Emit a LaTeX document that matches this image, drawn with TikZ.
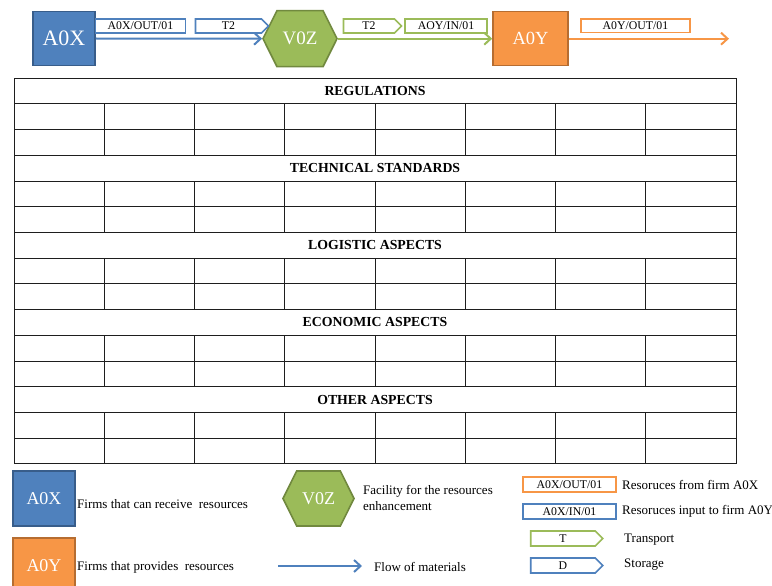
\documentclass[tikz,border=0pt]{standalone}
\usepackage{fontspec}
\setmainfont{Liberation Serif}
\usetikzlibrary{arrows.meta,shapes.symbols}
\definecolor{fblue}{HTML}{4F81BD}
\definecolor{dblue}{HTML}{385D8A}
\definecolor{fgreen}{HTML}{9BBB59}
\definecolor{dgreen}{HTML}{71893F}
\definecolor{forange}{HTML}{F79646}
\definecolor{dorange}{HTML}{B66D31}
\definecolor{gridcol}{HTML}{1E1E1E}

\begin{document}
\begin{tikzpicture}[x=1pt,y=-1pt,
  firm/.style 2 args={rectangle, fill=#1, draw=#2, line width=1.6pt,
    text=white, inner sep=0pt},
  hexnode/.style={signal, signal to=west and east, signal pointer angle=127,
    fill=fgreen, draw=dgreen, line width=1.6pt, text=white, inner sep=0pt},
  tagbox/.style={rectangle, draw=#1, fill=white, line width=1.5pt, inner sep=0pt,
    font=\fontsize{11.8}{12}\selectfont},
  tagsignal/.style={signal, signal to=east, signal pointer angle=90, draw=#1,
    fill=white, line width=1.6pt, inner sep=0pt,
    font=\fontsize{11.8}{12}\selectfont},
  flow/.style={draw=#1, line width=2pt, -{Straight Barb[length=6.5pt,width=12pt]}},
  legtext/.style={anchor=west, inner sep=0pt, font=\fontsize{13}{16}\selectfont},
  gridline/.style={draw=gridcol, line width=1pt},
  header/.style={font=\fontsize{13.8}{14}\selectfont\bfseries, inner sep=0pt}
]
\clip (0,0) rectangle (772,586);
\fill[white] (0,0) rectangle (772,586);

% ---------- process chain ----------
\node[firm={fblue}{dblue}, minimum width=62, minimum height=54,
  font=\fontsize{22}{22}\selectfont] (a0x) at (64,38.5) {A0X};
\node[hexnode, minimum width=74, minimum height=56,
  font=\fontsize{19}{19}\selectfont] (v0z) at (300,38.7) {V0Z};
\node[firm={forange}{dorange}, minimum width=75, minimum height=54,
  font=\fontsize{18.5}{18.5}\selectfont] (a0y) at (530.5,38.7) {A0Y};
\coordinate (out) at (729,38.7);

\draw[flow=fblue] (a0x.east) -- (v0z.west);
\draw[flow=fgreen] (v0z.east) -- (a0y.west);
\draw[flow=forange] (a0y.east) -- (out);

\node[tagbox=fblue, minimum width=90, minimum height=14] (t1) at (140.5,26) {A0X/OUT/01};
\node[tagsignal=fblue, minimum width=73, minimum height=14] (t2) at (228.5,26) {T2};
\node[tagsignal=fgreen, minimum width=58, minimum height=14] (t3) at (369,26) {T2};
\node[tagbox=fgreen, minimum width=82, minimum height=14] (t4) at (446,26) {AOY/IN/01};
\node[tagbox=forange, minimum width=109, minimum height=13.5] (t5) at (635.5,25.7) {A0Y/OUT/01};

% ---------- table ----------
\def\tl{14}\def\tr{736}\def\tt{78.3}\def\rh{25.7}\def\cw{90.25}
\draw[gridline] (\tl,\tt) rectangle (\tr,{\tt+15*\rh});
\foreach \r in {1,...,14}
  \draw[gridline] (\tl,{\tt+\r*\rh}) -- (\tr,{\tt+\r*\rh});
\foreach \g in {0,...,4}
  \foreach \k in {1,...,7}
    \draw[gridline] ({\tl+\k*\cw},{\tt+(3*\g+1)*\rh}) -- ({\tl+\k*\cw},{\tt+(3*\g+3)*\rh});

\foreach \g/\name in {0/REGULATIONS, 1/TECHNICAL STANDARDS, 2/LOGISTIC ASPECTS,
                      3/ECONOMIC ASPECTS, 4/OTHER ASPECTS}
  \node[header] (h\g) at ({(\tl+\tr)/2},{\tt+(3*\g+0.5)*\rh}) {\name};

% ---------- legend ----------
\node[firm={fblue}{dblue}, minimum width=62, minimum height=55,
  font=\fontsize{18}{18}\selectfont] (la0x) at (44,498.5) {A0X};
\node[legtext] (la0xt) at (77,504) {Firms that can receive\ \ resources};

\node[firm={forange}{dorange}, minimum width=62, minimum height=55,
  font=\fontsize{18}{18}\selectfont] (la0y) at (44,565.5) {A0Y};
\node[legtext] (la0yt) at (77,567) {Firms that provides\ \ resources};

\node[hexnode, minimum width=71, minimum height=55,
  font=\fontsize{18}{18}\selectfont] (lv0z) at (318.5,498.5) {V0Z};
\node[legtext, align=left] (lv0zt) at (363,498) {Facility for the resources\\enhancement};

\coordinate (lfa) at (278,566);
\coordinate (lfb) at (362,566);
\draw[flow=fblue] (lfa) -- (lfb);
\node[legtext] (lflow) at (374,567) {Flow of materials};

\node[tagbox=forange, minimum width=93, minimum height=15] (lt1) at (569.5,484.5) {A0X/OUT/01};
\node[legtext] (lt1t) at (622,485) {Resoruces from firm A0X};
\node[tagbox=fblue, minimum width=93, minimum height=15] (lt2) at (569.5,511.5) {A0X/IN/01};
\node[legtext] (lt2t) at (622,511) {Resoruces input to firm A0Y};
\node[tagsignal=fgreen, minimum width=72, minimum height=15] (lt3) at (563,538.5) {T};
\node[legtext] (lt3t) at (624,540) {Transport};
\node[tagsignal=fblue, minimum width=72, minimum height=15] (lt4) at (563,565.5) {D};
\node[legtext] (lt4t) at (624,565) {Storage};
\end{tikzpicture}
\end{document}
